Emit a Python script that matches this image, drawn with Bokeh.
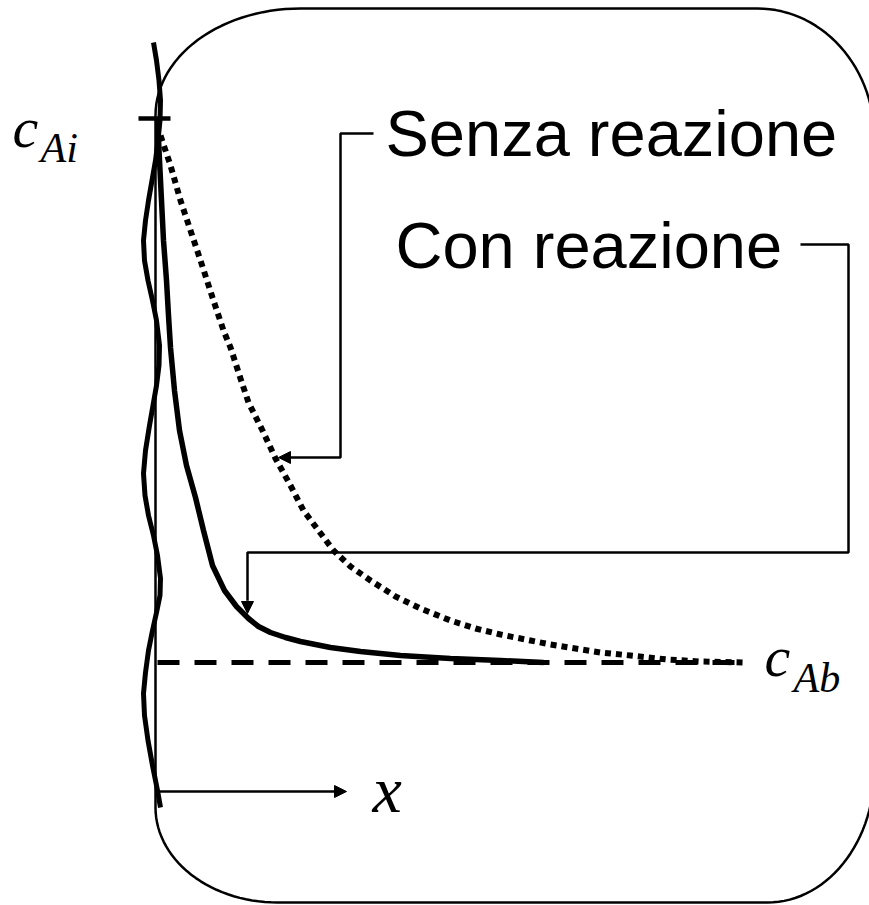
from bokeh.plotting import figure
from bokeh.models import Range1d, Arrow, NormalHead
from bokeh.core.properties import value
from bokeh.embed import file_html
from bokeh.resources import INLINE
import math

# ---- data (pixel-like diagram coordinates) ----
# wavy interface line
wave_x = [153, 156, 158.5, 160, 159.5, 157.5, 155, 151.5, 148, 145, 143, 144, 147.5, 152, 156, 159,
          158.5, 156, 152.5, 149, 145, 143, 144.5, 148, 153, 157, 160, 159.5, 156, 152, 148, 145,
          143, 144, 147.5, 152, 157, 160]
wave_y = [42, 60, 80, 100, 120, 140, 160, 180, 200, 220, 240, 260, 280, 300, 320, 345,
          365, 385, 405, 425, 450, 473, 495, 515, 535, 555, 578, 595, 612, 630, 650, 672,
          693, 715, 740, 765, 790, 807]

# concentration profile with reaction (solid)
con_x = [157, 159, 161, 163, 166, 168, 170, 174, 179, 186, 195, 203, 212, 224, 236, 248, 258,
         270, 285, 300, 330, 360, 400, 450, 500, 543]
con_y = [118, 160, 200, 240, 280, 315, 347, 390, 430, 465, 497, 530, 565, 590, 606, 618, 626,
         632, 637, 641, 647, 651, 655, 658, 660, 662]

# concentration profile without reaction (dotted)
senza_x = [160, 170, 180, 190, 200, 212, 223, 230, 240, 248, 262, 275, 290, 303, 318, 333, 350,
           370, 395, 420, 450, 475, 500, 530, 550, 575, 600, 630, 667, 700, 745]
senza_y = [135, 165, 200, 230, 260, 297, 330, 347, 378, 402, 430, 458, 485, 510, 530, 550, 566,
           580, 596, 608, 620, 628, 634, 640, 644, 648, 652, 655, 659, 661, 662]

# bulk concentration level (dashed)
bulk_x = [157, 735]
bulk_y = [662, 662]

# interface concentration tick
tick_x = [138, 170]
tick_y = [118, 118]

# rounded box (right side runs past the picture edge)
box_left, box_right, box_top, box_bottom = 155, 874, 8, 902
r_tl, r_tr, r_br, r_bl = (145, 107), (117, 130), (107, 133), (122, 95)

# annotation leaders
senza_lead_x = [373, 340, 340, 290]
senza_lead_y = [133, 133, 457, 457]
con_lead_x = [800, 848, 848, 247, 247]
con_lead_y = [244, 244, 552, 552, 600]

# x axis arrow
xaxis_x = [157, 346]
xaxis_y = [791, 791]

labels = {"senza": "Senza reazione", "con": "Con reazione"}

# ---- figure ----
p = figure(width=869, height=905, output_backend="svg", toolbar_location=None,
           x_range=Range1d(0, 869), y_range=Range1d(905, 0), min_border=0)
p.axis.visible = False
p.grid.visible = False
p.outline_line_color = None
p.background_fill_color = "white"
p.border_fill_color = "white"


def quarter(cx, cy, rx, ry, a0, a1, n=30):
    xs, ys = [], []
    for i in range(n + 1):
        a = math.radians(a0 + (a1 - a0) * i / n)
        xs.append(cx + rx * math.cos(a))
        ys.append(cy + ry * math.sin(a))
    return xs, ys


bx, by = [], []
for (cx, cy, rx, ry, a0, a1) in [
    (box_left + r_tl[0], box_top + r_tl[1], r_tl[0], r_tl[1], 180, 270),
    (box_right - r_tr[0], box_top + r_tr[1], r_tr[0], r_tr[1], 270, 360),
    (box_right - r_br[0], box_bottom - r_br[1], r_br[0], r_br[1], 0, 90),
    (box_left + r_bl[0], box_bottom - r_bl[1], r_bl[0], r_bl[1], 90, 180),
]:
    xs, ys = quarter(cx, cy, rx, ry, a0, a1)
    bx += xs
    by += ys
bx.append(bx[0]); by.append(by[0])
p.line(bx, by, line_color="black", line_width=2.5)

# curves
p.line(wave_x, wave_y, line_color="black", line_width=5)
p.line(bulk_x, bulk_y, line_color="black", line_width=5, line_dash="22 15")
p.line(senza_x, senza_y, line_color="black", line_width=6, line_dash="6 5")
p.line(con_x, con_y, line_color="black", line_width=5.5)
p.line(tick_x, tick_y, line_color="black", line_width=4.5)

# leaders
head = dict(size=12, fill_color="black", line_color="black")
p.line(senza_lead_x, senza_lead_y, line_color="black", line_width=2.5)
p.add_layout(Arrow(end=NormalHead(**head),
                   x_start=senza_lead_x[-1], y_start=senza_lead_y[-1], x_end=278, y_end=457,
                   line_color="black", line_width=2.5))
p.line(con_lead_x, con_lead_y, line_color="black", line_width=2.5)
p.add_layout(Arrow(end=NormalHead(**head),
                   x_start=con_lead_x[-1], y_start=con_lead_y[-1], x_end=247, y_end=613,
                   line_color="black", line_width=2.5))
p.add_layout(Arrow(end=NormalHead(**head),
                   x_start=xaxis_x[0], y_start=xaxis_y[0], x_end=xaxis_x[1], y_end=xaxis_y[1],
                   line_color="black", line_width=2.5))

# texts
sans = value("Liberation Sans")
serif = value("Liberation Serif")
p.text(x=[385], y=[133], text=[labels["senza"]], text_font=sans, text_font_size="65px",
       text_baseline="alphabetic", text_align="left", text_color="black")
p.text(x=[395], y=[245], text=[labels["con"]], text_font=sans, text_font_size="65px",
       text_baseline="alphabetic", text_align="left", text_color="black")
p.text(x=[12], y=[127], text=["c"], text_font=serif, text_font_style="italic",
       text_font_size="58px", text_baseline="alphabetic", text_color="black")
p.text(x=[40], y=[147], text=["Ai"], text_font=serif, text_font_style="italic",
       text_font_size="42px", text_baseline="alphabetic", text_color="black")
p.text(x=[764], y=[656], text=["c"], text_font=serif, text_font_style="italic",
       text_font_size="58px", text_baseline="alphabetic", text_color="black")
p.text(x=[793], y=[677], text=["Ab"], text_font=serif, text_font_style="italic",
       text_font_size="42px", text_baseline="alphabetic", text_color="black")
p.text(x=[372], y=[789], text=["x"], text_font=serif, text_font_style="italic",
       text_font_size="66px", text_baseline="alphabetic", text_color="black")

open("out.html", "w").write(file_html(p, INLINE))
